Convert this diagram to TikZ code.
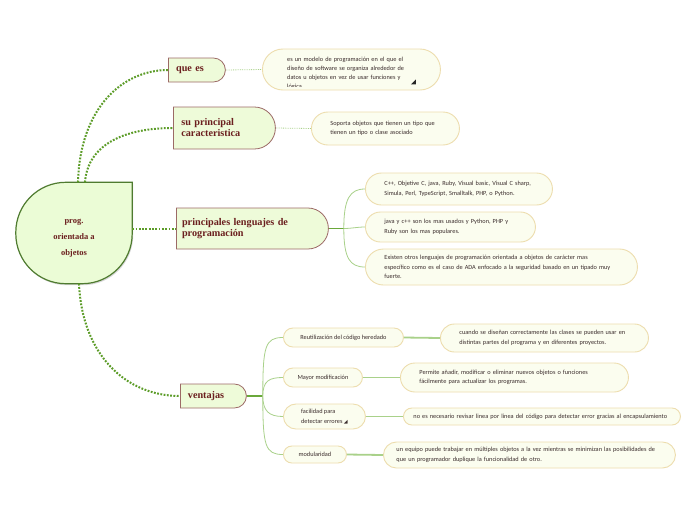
\documentclass[tikz,border=0pt]{standalone}
\usepackage{fontspec}
\setmainfont{Carlito}
\newfontfamily\headfont{Liberation Serif}
\newfontfamily\symfont{DejaVu Sans}
\usetikzlibrary{shapes.misc,shadows,backgrounds}
\definecolor{rootfill}{HTML}{EBFCD6}
\definecolor{rootline}{HTML}{4F7B30}
\definecolor{mainfill}{HTML}{EEFBD9}
\definecolor{mainline}{HTML}{9C6A66}
\definecolor{maintext}{HTML}{6B1F1F}
\definecolor{subfill}{HTML}{FBFDEF}
\definecolor{subline}{HTML}{EDDDAE}
\definecolor{subtext}{HTML}{3A2C2C}
\definecolor{dotgreen}{HTML}{5C9C28}
\definecolor{trunkgreen}{HTML}{6AA83A}
\definecolor{lightgreen}{HTML}{A9D18A}
\begin{document}
\begin{tikzpicture}[x=1pt,y=-1pt,
	rootnode/.style={minimum width=116pt,minimum height=101pt,inner sep=0pt,align=center,text=maintext,font=\headfont\bfseries\fontsize{8.5}{16}\selectfont},
	mainbox/.style={rounded rectangle,rounded rectangle west arc=none,draw=mainline,fill=mainfill,line width=0.8pt,text=maintext,font=\headfont\bfseries\fontsize{10.2}{11}\selectfont,align=left,anchor=west,inner xsep=0pt,inner ysep=0pt},
	subbox/.style={rectangle,draw=subline,fill=subfill,line width=0.9pt,text=subtext,font=\fontsize{6.3}{9.5}\selectfont,align=left,anchor=west,inner xsep=19pt,inner ysep=0pt},
	leafbox/.style={subbox,align=center,inner xsep=0pt},
	dotlink/.style={draw=dotgreen,line width=2pt,dash pattern=on 1.8pt off 1.5pt},
	thinlink/.style={draw=lightgreen,line width=0.8pt,densely dotted},
	trunk/.style={draw=trunkgreen,line width=1.3pt},
	branch/.style={draw=lightgreen,line width=0.8pt},
	leaflink/.style={draw=lightgreen,line width=1.8pt}]
	\useasboundingbox (0,0) rectangle (696,520);
	% centre
	\node[rootnode] (root) at (74,233) {\rule{0pt}{14pt}prog.\\orientada a\\objetos};
	\begin{scope}[on background layer]
		\fill[white] (0,0) rectangle (696,520);
		\draw[rootline,fill=rootfill,line width=1.2pt,line cap=rect,rounded corners=50pt,
		drop shadow={opacity=0.3,shadow xshift=1pt,shadow yshift=-1.5pt}]
		(root.north east)--(root.south east)--(root.south west)--(root.north west)--(root.north east);
	\end{scope}
	% ramas principales
	\node[mainbox,minimum height=24pt,minimum width=57pt,text width=41pt] (que) at (168,70) {que es};
	\node[mainbox,minimum height=42pt,minimum width=102pt,text width=84pt] (carac) at (173,128) {su principal\\caracteristica};
	\node[mainbox,minimum height=41pt,minimum width=152pt,text width=138pt] (leng) at (176,228.5) {principales lenguajes de\\programación};
	\node[mainbox,minimum height=24pt,minimum width=66pt,text width=50pt] (vent) at (180,396) {ventajas};
	\draw[dotlink] ([xshift=4pt]root.north) .. controls +(2,-75) and +(-45,0) .. (que.west);
	\draw[dotlink] ([xshift=11pt]root.north) .. controls +(3,-40) and +(-45,0) .. (carac.west);
	\draw[dotlink] (root.east|-leng.west)--(leng.west);
	\draw[dotlink] ([xshift=5pt]root.south) .. controls +(3,70) and +(-55,0) .. (vent.west);
	% que es
	\node[subbox,minimum height=41pt,text width=130pt,inner xsep=24pt,rounded corners=20.5pt] (quedesc) at (262,69.5) {};
	\begin{scope}
		\clip (quedesc.north west) rectangle ([yshift=4pt]quedesc.south east);
		\node[anchor=north west,inner sep=0pt,text width=130pt,align=left,text=subtext,font=\fontsize{6.3}{9}\selectfont] (quetext) at ([xshift=25pt,yshift=-8pt]quedesc.north west)
		{es un modelo de programación en el que el\\diseño de software se organiza alrededor de\\datos u objetos en vez de usar funciones y\\lógica.};
	\end{scope}
	\fill[black!85] ([xshift=-25pt,yshift=6pt]quedesc.south east)--++(-5,0)--++(5,-5)--cycle;
	\draw[thinlink] (que.east)--(quedesc.west);
	% caracteristica
	\node[subbox,minimum height=33pt,text width=110pt,rounded corners=16.5pt] (caracdesc) at (311,128.5) {Soporta objetos que tienen un tipo que\\tienen un tipo o clase asociado};
	\draw[thinlink] (carac.east)--(caracdesc.west);
	% lenguajes
	\node[subbox,minimum height=32pt,text width=149pt,rounded corners=16pt] (leng1) at (365,189) {C++, Objetive C, java, Ruby, Visual basic, Visual C sharp,\\Simula, Perl, TypeScript, Smalltalk, PHP, o Python.};
	\node[subbox,minimum height=30pt,text width=132pt,rounded corners=15pt] (leng2) at (365,227) {java y c++ son los mas usados y Python, PHP y\\Ruby son los mas populares.};
	\node[subbox,minimum height=36pt,text width=234pt,rounded corners=18pt] (leng3) at (365,267) {Existen otros lenguajes de programación orientada a objetos de carácter mas\\específico como es el caso de ADA enfocado a la seguridad basado en un tipado muy\\fuerte.};
	\coordinate (lj) at ([xshift=15pt]leng.east);
	\draw[trunk] (leng.east)--(lj);
	\draw[branch] (lj) .. controls +(0,-30) and +(-15,0) .. (leng1.west);
	\draw[branch] (lj) .. controls +(8,0) and +(-8,0) .. (leng2.west);
	\draw[branch] (lj) .. controls +(0,30) and +(-15,0) .. (leng3.west);
	% ventajas
	\node[leafbox,minimum width=120pt,minimum height=19pt,rounded corners=9.5pt] (reut) at (283,337.5) {Reutilización del código heredado};
	\node[leafbox,minimum width=79pt,minimum height=19pt,rounded corners=9.5pt] (modif) at (283,377.5) {Mayor modificación};
	\node[leafbox,align=left,minimum width=82pt,minimum height=25pt,rounded corners=12.5pt] (error) at (283,416.5) {facilidad para\\detectar errores {\symfont\fontsize{5}{5}\selectfont ◢}};
	\node[leafbox,minimum width=63pt,minimum height=17pt,rounded corners=8.5pt] (modul) at (283,454.5) {modularidad};
	\coordinate (vj) at ([xshift=16pt]vent.east);
	\draw[trunk] (vent.east)--(vj);
	\draw[branch] (vj) .. controls +(0,-50) and +(-18,0) .. (reut.west);
	\draw[branch] (vj) .. controls +(0,-15) and +(-14,0) .. (modif.west);
	\draw[branch] (vj) .. controls +(0,15) and +(-14,0) .. (error.west);
	\draw[branch] (vj) .. controls +(0,50) and +(-18,0) .. (modul.west);
	\node[subbox,minimum height=28pt,text width=170pt,rounded corners=14pt] (reutdesc) at (440,338) {cuando se diseñan correctamente las clases se pueden usar en\\distintas partes del programa y en diferentes proyectos.};
	\node[subbox,minimum height=29pt,text width=190pt,rounded corners=14.5pt] (modifdesc) at (400,377.5) {Permite añadir, modificar o eliminar nuevos objetos o funciones\\fácilmente para actualizar los programas.};
	\node[subbox,minimum height=17pt,text width=257pt,inner xsep=10pt,rounded corners=8.5pt] (errordesc) at (403,416.5) {no es necesario revisar linea por linea del código para detectar error gracias al encapsulamiento};
	\node[subbox,minimum height=26pt,text width=266pt,inner xsep=13pt,rounded corners=13pt] (moduldesc) at (383,455) {un equipo puede trabajar en múltiples objetos a la vez mientras se minimizan las posibilidades de\\que un programador duplique la funcionalidad de otro.};
	\foreach \a/\b in {reut/reutdesc,modif/modifdesc,error/errordesc,modul/moduldesc}
	\draw[leaflink] (\a.east)--(\b.west);
\end{tikzpicture}
\end{document}
